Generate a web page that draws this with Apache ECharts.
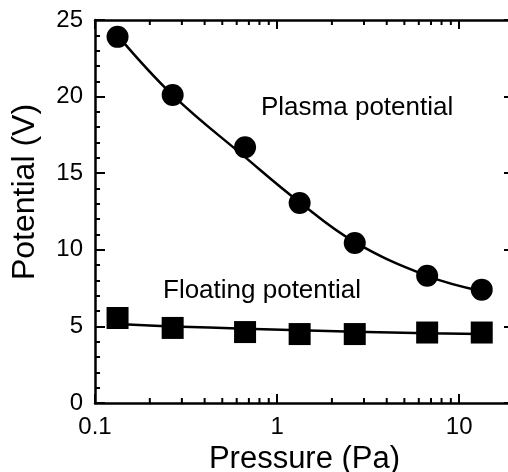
<!DOCTYPE html>
<html>
<head>
<meta charset="utf-8">
<script src="https://cdn.jsdelivr.net/npm/echarts@6/dist/echarts.min.js"></script>
<style>
  html, body { margin: 0; padding: 0; background: #fff; }
  #main { width: 508px; height: 472px; }
</style>
</head>
<body>
<div id="main"></div>
<script>
// pressure (Pa) = 1, 2, 5, 10, 20, 50, 100 mTorr
var pressure = [0.133, 0.267, 0.667, 1.33, 2.67, 6.67, 13.3];
var plasmaPts = [23.9, 20.1, 16.7, 13.05, 10.45, 8.3, 7.4];
var plasmaFit = [24.0, 20.1, 16.05, 13.1, 10.5, 8.3, 7.3];
var floatPts = [5.55, 4.9, 4.63, 4.5, 4.5, 4.6, 4.6];
var floatFit = [5.15, 5.0, 4.85, 4.75, 4.65, 4.55, 4.5];
var minorX = [0.2, 0.3, 0.4, 0.5, 0.6, 0.7, 0.8, 0.9, 2, 3, 4, 5, 6, 7, 8, 9];

var FONT = '"Liberation Sans", Arial, sans-serif';

function pairs(xs, ys) {
    var out = [];
    for (var i = 0; i < xs.length; i++) {
        out.push([xs[i], ys[i]]);
    }
    return out;
}

var myChart = echarts.init(document.getElementById('main'));
var option = {
    animation: false,
    backgroundColor: '#fff',
    grid: { left: 95, top: 20, width: 419, height: 383, containLabel: false, outerBoundsMode: 'none' },
    xAxis: [
        {
            type: 'log',
            min: 0.1,
            max: 20,
            position: 'bottom',
            name: 'Pressure (Pa)',
            nameLocation: 'middle',
            nameGap: 38,
            nameTextStyle: { fontFamily: FONT, fontSize: 31, color: '#000' },
            axisLine: { onZero: false, lineStyle: { color: '#000', width: 2.5 } },
            axisTick: { inside: true, length: 9, lineStyle: { color: '#000', width: 2 } },
            axisLabel: { fontFamily: FONT, fontSize: 24, color: '#000', margin: 12, showMaxLabel: false },
            splitLine: { show: false }
        },
        {
            type: 'log',
            min: 0.1,
            max: 20,
            position: 'top',
            axisLine: { onZero: false, lineStyle: { color: '#000', width: 2.5 } },
            axisTick: { inside: true, length: 9, lineStyle: { color: '#000', width: 2 } },
            axisLabel: { show: false },
            splitLine: { show: false }
        }
    ],
    yAxis: [
        {
            type: 'value',
            min: 0,
            max: 25,
            interval: 5,
            position: 'left',
            axisLine: { show: true, onZero: false, lineStyle: { color: '#000', width: 2.5 } },
            axisTick: { show: true, inside: true, length: 10, lineStyle: { color: '#000', width: 2 } },
            minorTick: { show: true, splitNumber: 5, length: 5, lineStyle: { color: '#000', width: 2 } },
            axisLabel: { fontFamily: FONT, fontSize: 24, color: '#000', margin: 12 },
            splitLine: { show: false }
        },
        {
            type: 'value',
            min: 0,
            max: 25,
            interval: 5,
            position: 'right',
            axisLine: { show: true, onZero: false, lineStyle: { color: '#000', width: 2.5 } },
            axisTick: { show: true, inside: true, length: 10, lineStyle: { color: '#000', width: 2 } },
            axisLabel: { show: false },
            splitLine: { show: false }
        }
    ],
    graphic: [
        {
            type: 'text', x: 25, y: 192, rotation: Math.PI / 2,
            style: { text: 'Potential (V)', font: '32px ' + FONT, fill: '#000', textAlign: 'center', textVerticalAlign: 'middle' }
        },
        {
            type: 'text', left: 261, top: 95,
            style: { text: 'Plasma potential', font: '26px ' + FONT, fill: '#000' }
        },
        {
            type: 'text', left: 163, top: 278,
            style: { text: 'Floating potential', font: '26px ' + FONT, fill: '#000' }
        }
    ],
    series: [
        {
            // minor log ticks on bottom and top
            type: 'custom',
            silent: true,
            z: 3,
            data: minorX.map(function (v) { return [v, 0]; }),
            renderItem: function (params, api) {
                var b = api.coord([api.value(0), 0]);
                var t = api.coord([api.value(0), 25]);
                var st = { stroke: '#000', lineWidth: 2 };
                return {
                    type: 'group',
                    children: [
                        { type: 'line', shape: { x1: b[0], y1: b[1], x2: b[0], y2: b[1] - 5 }, style: st },
                        { type: 'line', shape: { x1: t[0], y1: t[1], x2: t[0], y2: t[1] + 5 }, style: st }
                    ]
                };
            }
        },
        {
            name: 'Plasma fit',
            type: 'line',
            smooth: 0.4,
            showSymbol: false,
            lineStyle: { color: '#000', width: 2.5 },
            data: pairs(pressure, plasmaFit)
        },
        {
            name: 'Plasma potential',
            type: 'scatter',
            symbol: 'circle',
            symbolSize: 22,
            itemStyle: { color: '#000', opacity: 1 },
            data: pairs(pressure, plasmaPts)
        },
        {
            name: 'Floating fit',
            type: 'line',
            smooth: 0.4,
            showSymbol: false,
            lineStyle: { color: '#000', width: 2.5 },
            data: pairs(pressure, floatFit)
        },
        {
            name: 'Floating potential',
            type: 'scatter',
            symbol: 'rect',
            symbolSize: 22,
            itemStyle: { color: '#000', opacity: 1 },
            data: pairs(pressure, floatPts)
        }
    ]
};
myChart.setOption(option);
</script>
</body>
</html>
